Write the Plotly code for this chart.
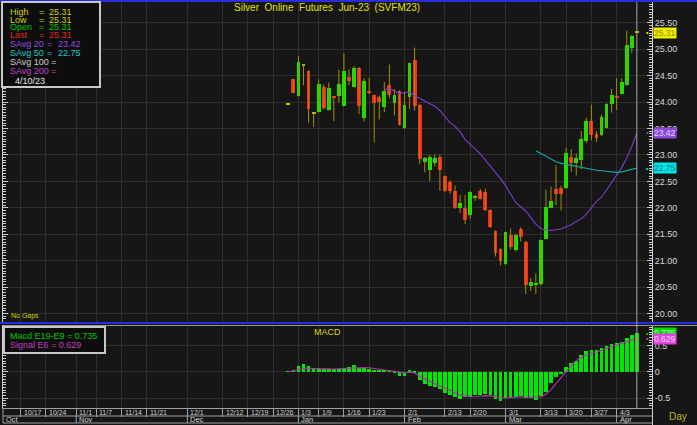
import plotly.graph_objects as go

W, H = 697, 425
FONT = "Arial, 'Liberation Sans', sans-serif"


def px(x):
    return x / W


def py(y):
    return 1 - y / H


# ---------------- data ----------------
# bar number: 0 = 1/3/23 (bars 12/29/22 ... 4/10/23)
bar_num = list(range(-2, 68))

open_ = [23.96, 24.43, 24.12, 24.70, 24.59, 23.78, 23.82, 24.28, 23.85, 24.11,
         24.12, 23.93, 24.48, 24.29, 24.64, 23.70, 24.21, 24.13, 24.09, 23.91,
         24.32, 23.99, 24.21, 23.50, 24.10, 24.79, 23.94, 22.86, 22.72, 22.85,
         22.97, 22.60, 22.48, 22.32, 22.00, 21.99, 21.86, 22.20, 22.32, 22.30,
         21.96, 21.56, 21.22, 20.93, 21.49, 21.20, 21.59, 21.36, 20.53, 20.55,
         20.56, 21.41, 22.00, 22.35, 22.38, 22.37, 22.97, 22.85, 22.90, 23.27,
         23.64, 23.40, 23.38, 23.51, 23.96, 24.11, 24.15, 24.32, 25.02, 25.31]
high = [23.96, 24.44, 24.87, 24.71, 24.60, 23.79, 24.43, 24.33, 24.37, 24.12,
        24.61, 24.92, 24.61, 24.68, 24.66, 24.45, 24.46, 24.14, 24.12, 24.38,
        24.71, 24.25, 24.22, 24.18, 24.74, 25.03, 23.97, 22.96, 23.00, 23.01,
        23.01, 22.61, 22.52, 22.42, 22.24, 22.24, 22.32, 22.24, 22.36, 22.36,
        21.97, 21.57, 21.23, 21.55, 21.61, 21.51, 21.63, 21.37, 20.67, 20.76,
        21.40, 22.34, 22.40, 22.81, 22.42, 23.14, 23.11, 23.03, 23.45, 23.70,
        23.95, 23.45, 23.76, 23.98, 24.25, 24.45, 24.45, 25.35, 25.27, 25.31]
low = [23.96, 24.17, 24.10, 24.32, 23.61, 23.53, 23.80, 23.86, 23.84, 23.64,
       23.99, 23.92, 24.32, 24.27, 23.77, 23.63, 24.15, 23.23, 23.67, 23.81,
       24.07, 23.75, 23.56, 23.49, 23.87, 23.84, 22.83, 22.67, 22.51, 22.78,
       22.32, 22.30, 22.27, 21.98, 21.90, 21.69, 21.79, 22.13, 22.16, 21.94,
       21.62, 21.08, 20.91, 20.92, 21.21, 21.17, 21.36, 20.37, 20.43, 20.37,
       20.53, 21.40, 21.99, 22.05, 21.95, 22.36, 22.68, 22.61, 22.73, 23.22,
       23.28, 23.25, 23.36, 23.50, 23.80, 23.85, 24.14, 24.31, 24.93, 25.31]
close = [23.96, 24.18, 24.75, 24.70, 23.87, 23.78, 24.34, 23.88, 24.26, 24.07,
         24.34, 24.59, 24.40, 24.64, 23.93, 24.40, 24.17, 23.98, 24.01, 24.21,
         24.13, 24.13, 23.57, 23.94, 24.73, 23.93, 22.92, 22.94, 22.97, 22.94,
         22.72, 22.31, 22.32, 21.99, 22.09, 21.77, 22.29, 22.22, 22.17, 21.95,
         21.63, 21.15, 20.99, 21.54, 21.25, 21.49, 21.44, 20.54, 20.59, 20.57,
         21.39, 22.01, 22.13, 22.27, 22.26, 23.04, 22.85, 22.94, 23.31, 23.64,
         23.38, 23.32, 23.72, 23.96, 24.13, 24.09, 24.38, 25.08, 25.25, 25.31]

savg20 = [None] * 19 + [
    24.24, 24.24, 24.21, 24.16, 24.18, 24.19, 24.12,
    24.07, 24.03, 23.97, 23.92, 23.84, 23.73, 23.61, 23.54, 23.44, 23.29,
    23.20, 23.10, 23.02, 22.90, 22.79, 22.67, 22.55, 22.42, 22.26, 22.10,
    22.02, 21.94, 21.82, 21.69, 21.61, 21.58, 21.57, 21.58, 21.60, 21.64,
    21.68, 21.74, 21.79, 21.88, 22.00, 22.12, 22.20, 22.34, 22.48, 22.62,
    22.76, 22.94, 23.16, 23.42]
savg50 = [None] * 49 + [
    23.08, 23.03, 22.97, 22.92, 22.87, 22.84, 22.82, 22.81, 22.79, 22.77,
    22.75, 22.73, 22.71, 22.70, 22.69, 22.68, 22.67, 22.68, 22.70, 22.72, 22.75]

macd = [0.005, 0.02, 0.10, 0.15, 0.10, 0.06, 0.045, 0.045, 0.05, 0.045,
        0.05, 0.08, 0.09, 0.13, 0.075, 0.075, 0.055, 0.025, 0.015, 0.015,
        0.005, -0.015, -0.075, -0.075, 0.02, -0.03, -0.15, -0.24, -0.27, -0.30,
        -0.33, -0.40, -0.44, -0.49, -0.525, -0.49, -0.475, -0.44, -0.44, -0.42,
        -0.44, -0.525, -0.55, -0.505, -0.49, -0.49, -0.46, -0.505, -0.505, -0.54,
        -0.46, -0.38, -0.22, -0.11, -0.045, 0.095, 0.17, 0.21, 0.32, 0.39,
        0.41, 0.41, 0.445, 0.49, 0.525, 0.54, 0.57, 0.635, 0.70, 0.735]
signal = [0.0, 0.02, 0.04, 0.06, 0.065, 0.06, 0.055, 0.05, 0.05, 0.05,
          0.055, 0.06, 0.07, 0.08, 0.078, 0.077, 0.075, 0.06, 0.045, 0.03,
          0.02, 0.01, -0.005, -0.02, -0.01, -0.02, -0.09, -0.14, -0.19, -0.23,
          -0.27, -0.31, -0.36, -0.40, -0.44, -0.46, -0.475, -0.47, -0.46, -0.455,
          -0.46, -0.48, -0.49, -0.50, -0.49, -0.48, -0.475, -0.48, -0.49, -0.49,
          -0.48, -0.43, -0.34, -0.22, -0.10, 0.0, 0.11, 0.21, 0.28, 0.32,
          0.35, 0.37, 0.40, 0.44, 0.48, 0.51, 0.54, 0.57, 0.60, 0.629]

tick_labels = ['10/17', '10/24', '11/1', '11/7', '11/14', '11/21', '12/1', '12/12',
               '12/19', '12/26', '1/3', '1/9', '1/16', '1/23', '2/1', '2/13', '2/20',
               '3/1', '3/13', '3/20', '3/27', '4/3']
tick_pos = [-55, -50, -44, -40, -35, -30, -22, -15, -10, -5, 0, 4, 9, 14, 21, 29, 34,
            41, 48, 53, 58, 63]
month_labels = ['Oct', 'Nov', 'Dec', 'Jan', 'Feb', 'Mar', 'Apr']
month_pos = [-58.5, -44, -22, 0, 21, 41, 63]
last_date = '4/10/23'

# ---------------- styling ----------------
BG = '#161616'
GRID = '#2e2e2e'
AXC = '#cfcfcf'
UP = '#00f000'
DOWN = '#ff2626'
DOJI = '#c8b400'
WICK = '#a09000'
X_RANGE = [-58.5, 70.0]

wick_x, wick_y = [], []
for k, lo, hi in zip(bar_num, low, high):
    wick_x += [k, k, None]
    wick_y += [lo, hi, None]

body_base = [min(o, c) for o, c in zip(open_, close)]
body_len = [max(abs(c - o), 0.022) for o, c in zip(open_, close)]
body_col = [UP if c > o else (DOWN if c < o else DOJI) for o, c in zip(open_, close)]

fig = go.Figure()
fig.add_trace(go.Scatter(x=wick_x, y=wick_y, mode='lines', line=dict(color=WICK, width=1),
                         hoverinfo='skip', xaxis='x', yaxis='y'))
fig.add_trace(go.Bar(x=bar_num, y=body_len, base=body_base, width=0.76,
                     marker=dict(color=body_col, line=dict(width=0)), xaxis='x', yaxis='y'))
fig.add_trace(go.Scatter(x=bar_num, y=savg20, mode='lines', line=dict(color='#7a3fc8', width=1.1),
                         xaxis='x', yaxis='y'))
fig.add_trace(go.Scatter(x=bar_num, y=savg50, mode='lines', line=dict(color='#1ea3a3', width=1.1),
                         xaxis='x', yaxis='y'))
fig.add_trace(go.Bar(x=bar_num, y=macd, width=0.74, marker=dict(color='#00e800', line=dict(width=0)),
                     xaxis='x2', yaxis='y2'))
fig.add_trace(go.Scatter(x=bar_num, y=signal, mode='lines', line=dict(color='#b234b2', width=1.1),
                         xaxis='x2', yaxis='y2'))

tickfont = dict(family=FONT, size=9, color='#d8d8d8')
common_x = dict(range=X_RANGE, tickmode='array', tickvals=tick_pos, showgrid=True,
                gridcolor=GRID, gridwidth=1, zeroline=False, showticklabels=False)

fig.update_layout(
    width=W, height=H, margin=dict(l=0, r=0, t=0, b=0),
    paper_bgcolor=BG, plot_bgcolor=BG, showlegend=False,
    barmode='overlay', bargap=0, hovermode=False,
    xaxis=dict(domain=[px(3), px(652)], anchor='y', ticks='', showline=False, **common_x),
    yaxis=dict(domain=[py(322), py(0)], range=[19.84, 25.93], side='right', anchor='x',
               tickmode='linear', tick0=0, dtick=0.5, tickformat='.2f',
               showgrid=True, gridcolor=GRID, zeroline=False,
               ticks='inside', ticklen=5, tickcolor=AXC, showline=True, linecolor=AXC,
               mirror='ticks', tickfont=tickfont,
               minor=dict(tickmode='linear', tick0=0, dtick=0.05, ticks='inside',
                          ticklen=3, tickcolor=AXC, showgrid=False)),
    xaxis2=dict(domain=[px(3), px(652)], anchor='y2', ticks='outside', ticklen=8,
                tickcolor='#a0a0a0', showline=True, linecolor='#a0a0a0', **common_x),
    yaxis2=dict(domain=[py(408), py(325)], range=[-0.69, 0.888], side='right', anchor='x2',
                tickmode='array', tickvals=[-0.5, 0, 0.5], ticktext=['-0.5', '0', '0.5'],
                showgrid=True, gridcolor=GRID, zeroline=False,
                ticks='inside', ticklen=5, tickcolor=AXC, showline=True, linecolor=AXC,
                mirror='ticks', tickfont=tickfont,
                minor=dict(tickmode='linear', tick0=0, dtick=0.05, ticks='inside',
                           ticklen=3, tickcolor=AXC, showgrid=False)),
)

shapes = []


def hline(y, x0, x1, color, width=1):
    shapes.append(dict(type='line', xref='paper', yref='paper', x0=px(x0), x1=px(x1),
                       y0=py(y), y1=py(y), line=dict(color=color, width=width), layer='above'))


def vline(x, y0, y1, color, width=1):
    shapes.append(dict(type='line', xref='paper', yref='paper', x0=px(x), x1=px(x),
                       y0=py(y0), y1=py(y1), line=dict(color=color, width=width), layer='above'))


# pane borders
hline(1, 0, 697, '#2b2be0', 2)
hline(323, 0, 697, '#2b2be0', 2)
hline(325.5, 3, 697, '#9a9a9a', 1)
# date / month rows
hline(416, 3, 652, '#a0a0a0', 1)
hline(423, 3, 652, '#a0a0a0', 1)
vline(3, 408, 423, '#a0a0a0', 1)
vline(652.5, 408, 425, AXC, 1)
for mp in month_pos[1:]:
    shapes.append(dict(type='line', xref='x2', yref='paper', x0=mp, x1=mp, y0=py(416), y1=py(423),
                       line=dict(color='#a0a0a0', width=1), layer='above'))
# cursor line on the last bar
shapes.append(dict(type='line', xref='x', yref='paper', x0=bar_num[-1], x1=bar_num[-1],
                   y0=py(408), y1=py(2), line=dict(color='#a8a8a8', width=1), layer='above'))
# legend boxes
shapes.append(dict(type='rect', xref='paper', yref='paper', x0=px(2), x1=px(100), y0=py(87), y1=py(2),
                   line=dict(color='#c8c8c8', width=2), fillcolor='#0d0d0d', layer='above'))
shapes.append(dict(type='rect', xref='paper', yref='paper', x0=px(4), x1=px(105), y0=py(353), y1=py(327),
                   line=dict(color='#c8c8c8', width=2), fillcolor='#0d0d0d', layer='above'))

ann = []


def txt(x, y, s, color, size=9, anchor='left', **kw):
    ann.append(dict(xref='paper', yref='paper', x=px(x), y=py(y), text=s, showarrow=False,
                    xanchor=anchor, yanchor='middle', font=dict(family=FONT, size=size, color=color), **kw))


NB = '\u00a0'
txt(327, 8, f'Silver{NB} Online{NB} Futures{NB} Jun-23{NB} (SVFM23)', '#e2e200', 10, 'center')
txt(327, 332, 'MACD', '#d8d800', 9, 'center')
txt(9, 316, 'No Gaps', '#d0d000', 7)
txt(678, 416, 'Day', '#c8b400', 10, 'center')

# price legend
rows = [
    ('High', high[-1], '#d4d400', 11.7),
    ('Low', low[-1], '#d4d400', 19.5),
    ('Open', open_[-1], '#00c800', 27.5),
    ('Last', close[-1], '#e02828', 35.5),
]
for name, val, col, yy in rows:
    txt(8, yy, name, col)
    txt(37, yy, '=', col)
    txt(47, yy, f'{val:.2f}', col)
txt(8, 43.8, 'SAvg 20', '#9050e0')
txt(45, 43.8, '=', '#9050e0')
txt(56, 43.8, f'{savg20[-1]:.2f}', '#9050e0')
txt(8, 53, 'SAvg 50', '#20c8c8')
txt(45, 53, '=', '#20c8c8')
txt(56, 53, f'{savg50[-1]:.2f}', '#20c8c8')
txt(8, 62, 'SAvg 100', '#d0d0d0')
txt(49, 62, '=', '#d0d0d0')
txt(8, 71, 'SAvg 200', '#c040d0')
txt(49, 71, '=', '#c040d0')
txt(13, 80.5, last_date, '#e6e6e6')

# MACD legend
txt(8, 336, f'Macd E19-E9 = {macd[-1]:.3f}', '#00c800')
txt(8, 344.5, f'Signal E6 = {signal[-1]:.3f}', '#c040c0')

# date and month labels
for lab, pos in zip(tick_labels, tick_pos):
    ann.append(dict(xref='x2', yref='paper', x=pos, y=py(412), text=lab, showarrow=False,
                    xanchor='left', yanchor='middle', xshift=1,
                    font=dict(family=FONT, size=7, color='#d0d0d0')))
for lab, pos in zip(month_labels, month_pos):
    ann.append(dict(xref='x2', yref='paper', x=pos, y=py(419.5), text=lab, showarrow=False,
                    xanchor='left', yanchor='middle', xshift=1,
                    font=dict(family=FONT, size=7.5, color='#d0d0d0')))

# last-value boxes on the right axis
boxes = [
    ('y', close[-1], '{:.2f}', '#eeee00', '#9a8800'),
    ('y', savg20[-1], '{:.2f}', '#8c4ade', '#e4d4ff'),
    ('y', savg50[-1], '{:.2f}', '#00e4e4', '#007c7c'),
    ('y2', macd[-1], '{:.3f}', '#00dc00', '#a8ffa8'),
    ('y2', signal[-1], '{:.3f}', '#e044e0', '#ffd0ff'),
]
for yref, val, fmt, bg, fg in boxes:
    ann.append(dict(xref='paper', yref=yref, x=px(653), y=val, text=fmt.format(val), showarrow=False,
                    xanchor='left', yanchor='middle', bgcolor=bg, borderpad=0,
                    font=dict(family=FONT, size=8.5, color=fg)))
    ann.append(dict(xref='paper', yref=yref, x=px(647), y=val, text='•', showarrow=False,
                    xanchor='center', yanchor='middle',
                    font=dict(family=FONT, size=7, color=bg)))

fig.update_layout(shapes=shapes, annotations=ann)
fig.write_html('out.html', config={'displayModeBar': False},
               post_script="document.body.style.margin='0';")
